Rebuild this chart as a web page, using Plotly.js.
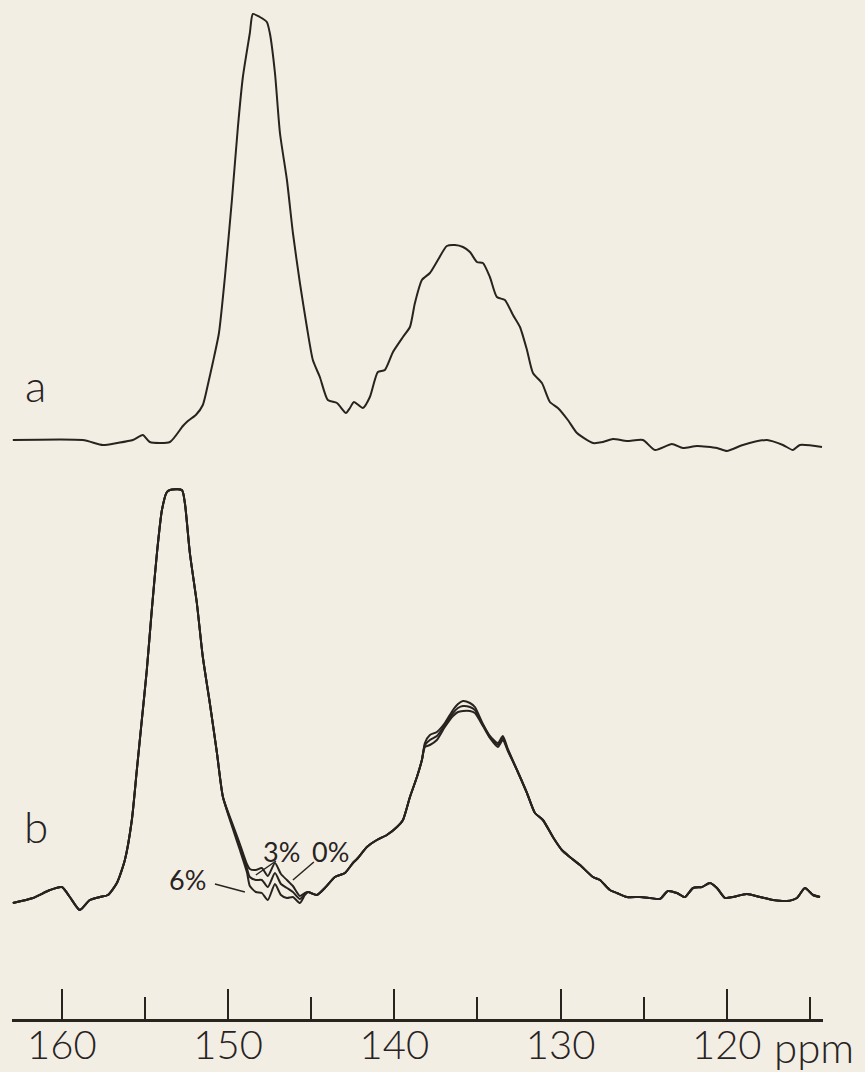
<!DOCTYPE html>
<html>
<head>
<meta charset="utf-8">
<script src="https://cdn.plot.ly/plotly-3.0.1.min.js"></script>
<style>
  html, body { margin: 0; padding: 0; background: #f3eee4; }
  #chart { width: 865px; height: 1072px; }
</style>
</head>
<body>
<div id="chart"></div>
<script>
// ---- Spectrum a: chemical shift (ppm) and intensity (arbitrary units) ----
const aPpm = [162.95,158.74,157.53,156.69,155.73,155.13,154.71,153.50,152.72,152.42,151.94,151.52,151.22,150.91,150.55,150.19,149.77,149.41,149.11,148.69,148.51,148.09,147.67,147.49,147.18,146.88,146.46,146.10,145.68,145.26,144.90,144.48,144.00,143.45,142.91,142.67,142.43,141.89,141.47,140.99,140.57,140.08,139.48,139.06,138.76,138.34,137.86,137.38,136.84,136.35,135.87,135.45,135.03,134.67,134.25,133.83,133.35,132.86,132.44,132.02,131.66,131.12,130.64,130.16,129.56,129.01,128.05,127.45,126.85,126.01,125.04,124.32,123.30,122.64,121.79,120.59,119.99,119.03,117.58,116.62,116.02,115.60,114.27];
const aInt = [0,0,-5,-3,0,5,-2,-2,14,19,25,35,55,78,107,163,240,313,363,407,426,423,418,407,367,307,260,207,157,113,80,63,40,37,27,32,38,32,43,68,70,88,103,113,137,160,167,180,194,195,193,188,178,177,163,143,140,125,113,90,67,57,38,32,20,7,-3,-2,1,-1,0,-10,-4,-8,-6,-8,-11,-5,0,-5,-10,-5,-7];

// ---- Spectrum b: three traces (0 %, 3 %, 6 %) on a common ppm grid ----
const bPpm = [162.95,161.74,160.72,160.00,159.52,158.92,158.32,157.71,157.23,156.69,156.21,155.79,155.49,155.19,154.89,154.59,154.28,153.98,153.68,153.50,152.78,152.60,152.30,151.88,151.52,151.10,150.67,150.31,149.71,149.29,148.87,148.69,148.33,147.97,147.61,147.18,146.82,146.46,146.10,145.68,145.38,145.20,144.66,144.18,143.57,142.97,142.49,142.19,141.65,141.05,140.45,139.84,139.48,139.06,138.64,138.34,138.16,137.86,137.44,136.96,136.47,136.17,135.87,135.45,135.15,134.67,134.25,133.77,133.47,133.17,132.62,132.02,131.54,131.06,130.46,129.92,129.44,128.83,128.05,127.63,127.03,126.61,126.01,125.22,124.62,124.02,123.54,123.00,122.52,122.03,121.49,121.01,120.59,120.11,119.63,118.79,118.00,117.22,116.38,115.78,115.30,114.81,114.39];
const b0 = [-3,2,10,13,3,-10,0,3,5,17,40,80,130,180,230,290,347,390,408,410,410,397,347,297,243,197,147,103,75,56,36,31,30,32,24,37,26,20,14,4,7,8,5,12,23,27,37,42,53,60,65,73,80,103,123,140,157,165,168,177,190,196,199,197,193,176,164,157,164,151,130,107,87,80,63,50,43,35,23,20,10,7,3,3,2,1,9,7,3,12,13,17,12,2,3,6,3,0,-1,2,12,5,3];
const b3 = [-3,2,10,13,3,-10,0,3,5,17,40,80,130,180,230,290,347,390,408,410,410,397,347,297,243,197,147,103,73,53,32,23,20,20,13,27,16,12,8,1,6,8,5,12,23,27,37,42,53,60,65,73,80,103,123,140,155,160,164,175,187,192,194,193,190,175,163,155,162,150,130,107,87,80,63,50,43,35,23,20,10,7,3,3,2,1,9,7,3,12,13,17,12,2,3,6,3,0,-1,2,12,5,3];
const b6 = [-3,2,10,13,3,-10,0,3,5,17,40,80,130,180,230,290,347,390,408,410,410,397,347,297,243,197,147,103,71,50,28,14,8,7,0,16,5,2,3,-3,5,8,5,12,23,27,37,42,53,60,65,73,80,103,123,140,153,155,160,173,184,188,189,189,187,174,162,153,160,149,130,107,87,80,63,50,43,35,23,20,10,7,3,3,2,1,9,7,3,12,13,17,12,2,3,6,3,0,-1,2,12,5,3];

const seriesLabels = ['0%', '3%', '6%'];
const panelLabels = ['a', 'b'];
const tickVals = [160, 150, 140, 130, 120];
const minorTickVals = [155, 145, 135, 125, 115];

// vertical stacking of the two spectra (layout choice)
const offsetA = 579, offsetB = 119;
const ink = '#28231f';
const bg = '#f3eee4';

const shift = (arr, off) => arr.map(v => v + off);
const lineStyle = { color: ink, width: 2, shape: 'spline', smoothing: 0.6 };

const traces = [
  { x: aPpm, y: shift(aInt, offsetA), mode: 'lines', line: lineStyle, name: 'a', hoverinfo: 'skip' },
  { x: bPpm, y: shift(b0, offsetB), mode: 'lines', line: lineStyle, name: seriesLabels[0], hoverinfo: 'skip' },
  { x: bPpm, y: shift(b3, offsetB), mode: 'lines', line: lineStyle, name: seriesLabels[1], hoverinfo: 'skip' },
  { x: bPpm, y: shift(b6, offsetB), mode: 'lines', line: lineStyle, name: seriesLabels[2], hoverinfo: 'skip' }
];

const fontFam = 'Lato, "Liberation Sans", sans-serif';

const layout = {
  width: 865, height: 1072,
  margin: { l: 12, r: 42, t: 0, b: 53 },
  paper_bgcolor: bg, plot_bgcolor: bg,
  showlegend: false,
  xaxis: {
    range: [163.0, 114.21],
    tickmode: 'array', tickvals: tickVals, ticktext: tickVals.map(String),
    ticks: 'inside', ticklen: 30, tickwidth: 2, tickcolor: ink,
    minor: { tickmode: 'array', tickvals: minorTickVals, ticks: 'inside', ticklen: 22, tickwidth: 2, tickcolor: ink, showgrid: false },
    showline: true, linecolor: ink, linewidth: 3,
    showgrid: false, zeroline: false,
    tickfont: { family: fontFam, size: 40, color: ink, weight: 300 },
    ticklabelstandoff: -11,
    fixedrange: true
  },
  yaxis: { range: [0, 1019], visible: false, showgrid: false, zeroline: false, fixedrange: true },
  annotations: [
    { x: 161.56, y: 634, xref: 'x', yref: 'y', text: panelLabels[0], showarrow: false,
      font: { family: fontFam, size: 44, color: ink, weight: 300 } },
    { x: 161.56, y: 193, xref: 'x', yref: 'y', text: panelLabels[1], showarrow: false,
      font: { family: fontFam, size: 44, color: ink, weight: 300 } },
    { x: 152.42, y: 140, xref: 'x', yref: 'y', text: seriesLabels[2], showarrow: false,
      font: { family: fontFam, size: 27, color: ink } },
    { x: 146.76, y: 168, xref: 'x', yref: 'y', text: seriesLabels[1], showarrow: false,
      font: { family: fontFam, size: 27, color: ink } },
    { x: 143.81, y: 168, xref: 'x', yref: 'y', text: seriesLabels[0], showarrow: false,
      font: { family: fontFam, size: 27, color: ink } },
    { x: 1.041, y: -0.027, xref: 'paper', yref: 'paper', text: 'ppm', showarrow: false,
      xanchor: 'right', yanchor: 'middle',
      font: { family: fontFam, size: 42, color: ink, weight: 300 } }
  ],
  shapes: [
    { type: 'line', xref: 'x', yref: 'y', x0: 150.79, y0: 135, x1: 148.99, y1: 127, line: { color: ink, width: 1.5 } },
    { type: 'line', xref: 'x', yref: 'y', x0: 147.12, y0: 158, x1: 148.33, y1: 144, line: { color: ink, width: 1.5 } },
    { type: 'line', xref: 'x', yref: 'y', x0: 144.84, y0: 157, x1: 146.10, y1: 139, line: { color: ink, width: 1.5 } }
  ]
};

Plotly.newPlot('chart', traces, layout, { displayModeBar: false, staticPlot: true });
</script>
</body>
</html>
